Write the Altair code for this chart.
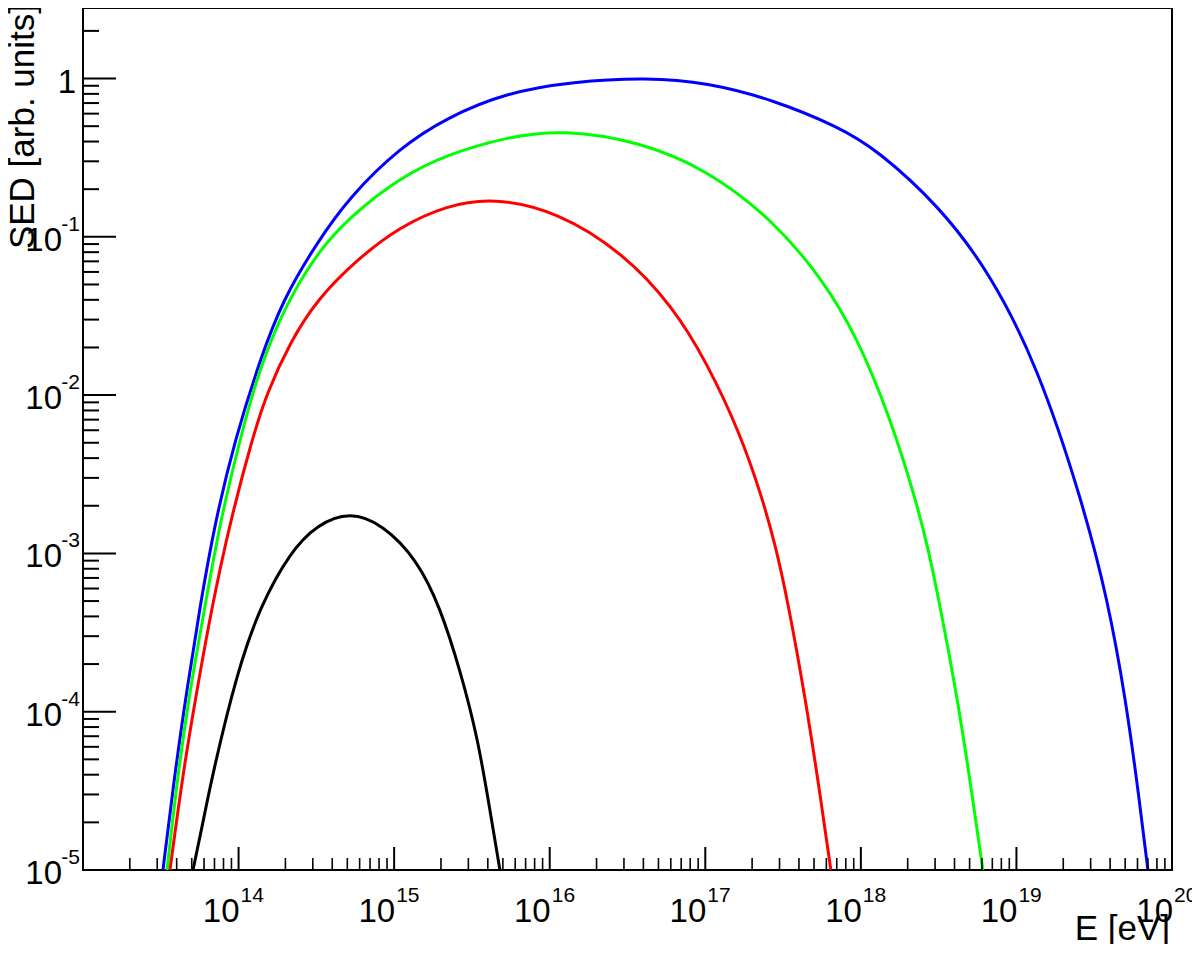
import altair as alt
import pandas as pd

# ---- data (E in eV, SED in arb. units) ----
blue_E = [3.266e13, 3.899e13, 4.656e13, 5.649e13, 7.047e13, 9.484e13, 1.374e14,
          1.928e14, 3.192e14, 5.200e14, 1.089e15, 2.183e15, 5.309e15, 1.409e16, 4.217e16,
          1.023e17, 2.716e17, 7.112e17, 1.268e18, 3.221e18, 6.745e18, 1.371e19, 2.630e19,
          3.864e19, 5.047e19, 6.166e19, 6.998e19]
blue_SED = [1.0e-5, 4.13e-5, 1.38e-4, 4.624e-4, 1.567e-3, 5.248e-3, 1.679e-2,
            4.018e-2, 9.204e-2, 0.1799, 0.3664, 0.5675, 0.8166, 0.9572, 1.014,
            0.9441, 0.7362, 0.4977, 0.3556, 0.1552, 0.05943, 0.01517, 2.188e-3,
            5.117e-4, 1.194e-4, 2.786e-5, 1.0e-5]

green_E = [3.467e13, 4.083e13, 4.875e13, 6.081e13, 7.586e13, 1.021e14, 1.312e14, 1.928e14,
           3.192e14, 5.200e14, 1.089e15, 2.183e15, 5.309e15, 1.216e16, 3.802e16, 1.023e17,
           2.716e17, 5.702e17, 9.419e17, 1.535e18, 2.254e18, 2.698e18, 3.170e18, 4.198e18,
           5.248e18, 6.081e18]
green_SED = [1.0e-5, 4.13e-5, 1.38e-4, 4.624e-4, 1.567e-3, 5.248e-3, 1.309e-2, 3.475e-2,
             7.962e-2, 0.1343, 0.2371, 0.3311, 0.4280, 0.4760, 0.3990, 0.2661,
             0.1285, 0.05370, 0.02344, 7.328e-3, 2.188e-3, 1.089e-3, 5.117e-4, 1.194e-4,
             2.786e-5, 1.0e-5]

red_E = [3.622e13, 4.395e13, 5.408e13, 6.745e13, 8.810e13, 1.219e14, 1.524e14, 2.138e14,
         3.192e14, 5.768e14, 1.089e15, 2.183e15, 4.315e15, 1.112e16, 2.951e16, 6.194e16,
         1.023e17, 1.667e17, 2.344e17, 2.844e17, 3.373e17, 4.416e17, 5.534e17, 6.412e17]
red_SED = [1.0e-5, 4.13e-5, 1.38e-4, 4.624e-4, 1.567e-3, 5.248e-3, 1.038e-2, 2.148e-2,
           4.018e-2, 7.194e-2, 0.1161, 0.1580, 0.1770, 0.1450, 0.07962, 0.03631,
           0.01607, 5.808e-3, 2.188e-3, 1.089e-3, 5.117e-4, 1.194e-4, 2.786e-5, 1.0e-5]

black_E = [5.093e13, 5.902e13, 6.839e13, 9.772e13, 1.374e14, 2.138e14, 3.192e14, 5.200e14,
           8.472e14, 1.403e15, 1.968e15, 2.685e15, 3.459e15, 4.093e15, 4.786e15]
black_SED = [1.0e-5, 1.995e-5, 4.13e-5, 1.770e-4, 4.624e-4, 1.014e-3, 1.520e-3, 1.840e-3,
             1.520e-3, 9.141e-4, 4.624e-4, 1.770e-4, 6.668e-5, 2.518e-5, 1.0e-5]

series_names = ["black", "red", "green", "blue"]
series_colors = ["#000000", "#ff0000", "#00ff00", "#0000ff"]

# axis tick values and labels
x_major = [1e14, 1e15, 1e16, 1e17, 1e18, 1e19]
x_label_vals = [1e14, 1e15, 1e16, 1e17, 1e18, 1e19, 1e20]
x_label_exp = ["14", "15", "16", "17", "18", "19", "20"]
y_major = [1e-5, 1e-4, 1e-3, 1e-2, 1e-1, 1.0]
y_label_vals = [1e-1, 1e-2, 1e-3, 1e-4, 1e-5]
y_label_exp = ["-1", "-2", "-3", "-4", "-5"]

x_minor = [k * 10.0 ** n for n in range(13, 20) for k in range(2, 10)]
y_minor = [k * 10.0 ** n for n in range(-5, 1) for k in range(2, 10) if k * 10.0 ** n < 2.79]

# ---- build tables ----
rows = []
for name, E, S in [("blue", blue_E, blue_SED), ("green", green_E, green_SED),
                   ("red", red_E, red_SED), ("black", black_E, black_SED)]:
    for e, s in zip(E, S):
        rows.append({"E": e, "SED": s, "series": name})
curves = pd.DataFrame(rows)

W, H = 1089, 862
FONT = "Liberation Sans, Arial, Helvetica, sans-serif"
xs = alt.Scale(type="log", domain=[1e13, 1e20])
ys = alt.Scale(type="log", domain=[1e-5, 2.79])

lines = alt.Chart(curves).mark_line(strokeWidth=3, interpolate="basis", clip=True).encode(
    x=alt.X("E:Q", scale=xs, axis=None),
    y=alt.Y("SED:Q", scale=ys, axis=None),
    color=alt.Color("series:N", scale=alt.Scale(domain=series_names, range=series_colors), legend=None),
    order=alt.Order("E:Q"),
)

xmaj = alt.Chart(pd.DataFrame({"v": x_major})).mark_rule(color="black", strokeWidth=2).encode(
    x=alt.X("v:Q", scale=xs, axis=None), y=alt.value(H), y2=alt.value(H - 23))
xmin = alt.Chart(pd.DataFrame({"v": x_minor})).mark_rule(color="black", strokeWidth=1.6).encode(
    x=alt.X("v:Q", scale=xs, axis=None), y=alt.value(H), y2=alt.value(H - 12))
ymaj = alt.Chart(pd.DataFrame({"v": y_major})).mark_rule(color="black", strokeWidth=2).encode(
    y=alt.Y("v:Q", scale=ys, axis=None), x=alt.value(0), x2=alt.value(33))
ymin = alt.Chart(pd.DataFrame({"v": y_minor})).mark_rule(color="black", strokeWidth=2).encode(
    y=alt.Y("v:Q", scale=ys, axis=None), x=alt.value(0), x2=alt.value(16))

xlab_df = pd.DataFrame({"v": x_label_vals, "base": ["10"] * len(x_label_vals), "exp": x_label_exp})
xlab_main = alt.Chart(xlab_df).mark_text(align="right", baseline="alphabetic", font=FONT,
                                         fontSize=33, dx=1).encode(
    x=alt.X("v:Q", scale=xs, axis=None), y=alt.value(H + 52), text="base:N")
xlab_sup = alt.Chart(xlab_df).mark_text(align="left", baseline="alphabetic", font=FONT,
                                        fontSize=21, dx=2).encode(
    x=alt.X("v:Q", scale=xs, axis=None), y=alt.value(H + 32), text="exp:N")

ylab_df = pd.DataFrame({"v": y_label_vals, "base": ["10"] * len(y_label_vals), "exp": y_label_exp})
ylab_main = alt.Chart(ylab_df).mark_text(align="right", baseline="alphabetic", font=FONT,
                                         fontSize=33, dx=-21, dy=14).encode(
    y=alt.Y("v:Q", scale=ys, axis=None), x=alt.value(0), text="base:N")
ylab_sup = alt.Chart(ylab_df).mark_text(align="right", baseline="alphabetic", font=FONT,
                                        fontSize=21, dx=-3, dy=-6).encode(
    y=alt.Y("v:Q", scale=ys, axis=None), x=alt.value(0), text="exp:N")
ylab_one = alt.Chart(pd.DataFrame({"v": [1.0], "t": ["1"]})).mark_text(
    align="right", baseline="alphabetic", font=FONT, fontSize=33, dx=-7, dy=14).encode(
    y=alt.Y("v:Q", scale=ys, axis=None), x=alt.value(0), text="t:N")

ytitle = alt.Chart(pd.DataFrame({"t": ["SED [arb. units]"]})).mark_text(
    align="right", baseline="alphabetic", angle=270, font=FONT, fontSize=35).encode(
    x=alt.value(-49), y=alt.value(-4), text="t:N")
xtitle = alt.Chart(pd.DataFrame({"t": ["E [eV]"]})).mark_text(
    align="right", baseline="alphabetic", font=FONT, fontSize=35).encode(
    x=alt.value(W - 2), y=alt.value(H + 70), text="t:N")

chart = alt.layer(
    lines, xmin, xmaj, ymin, ymaj, xlab_main, xlab_sup, ylab_main, ylab_sup, ylab_one, ytitle, xtitle
).properties(
    width=W, height=H,
    padding={"left": 75, "top": 0, "right": 20, "bottom": 74},
    autosize=alt.AutoSizeParams(type="none"),
    background="white",
).configure_view(stroke="black", strokeWidth=2)

chart.save("out.html", embed_options={"renderer": "svg", "actions": False})
